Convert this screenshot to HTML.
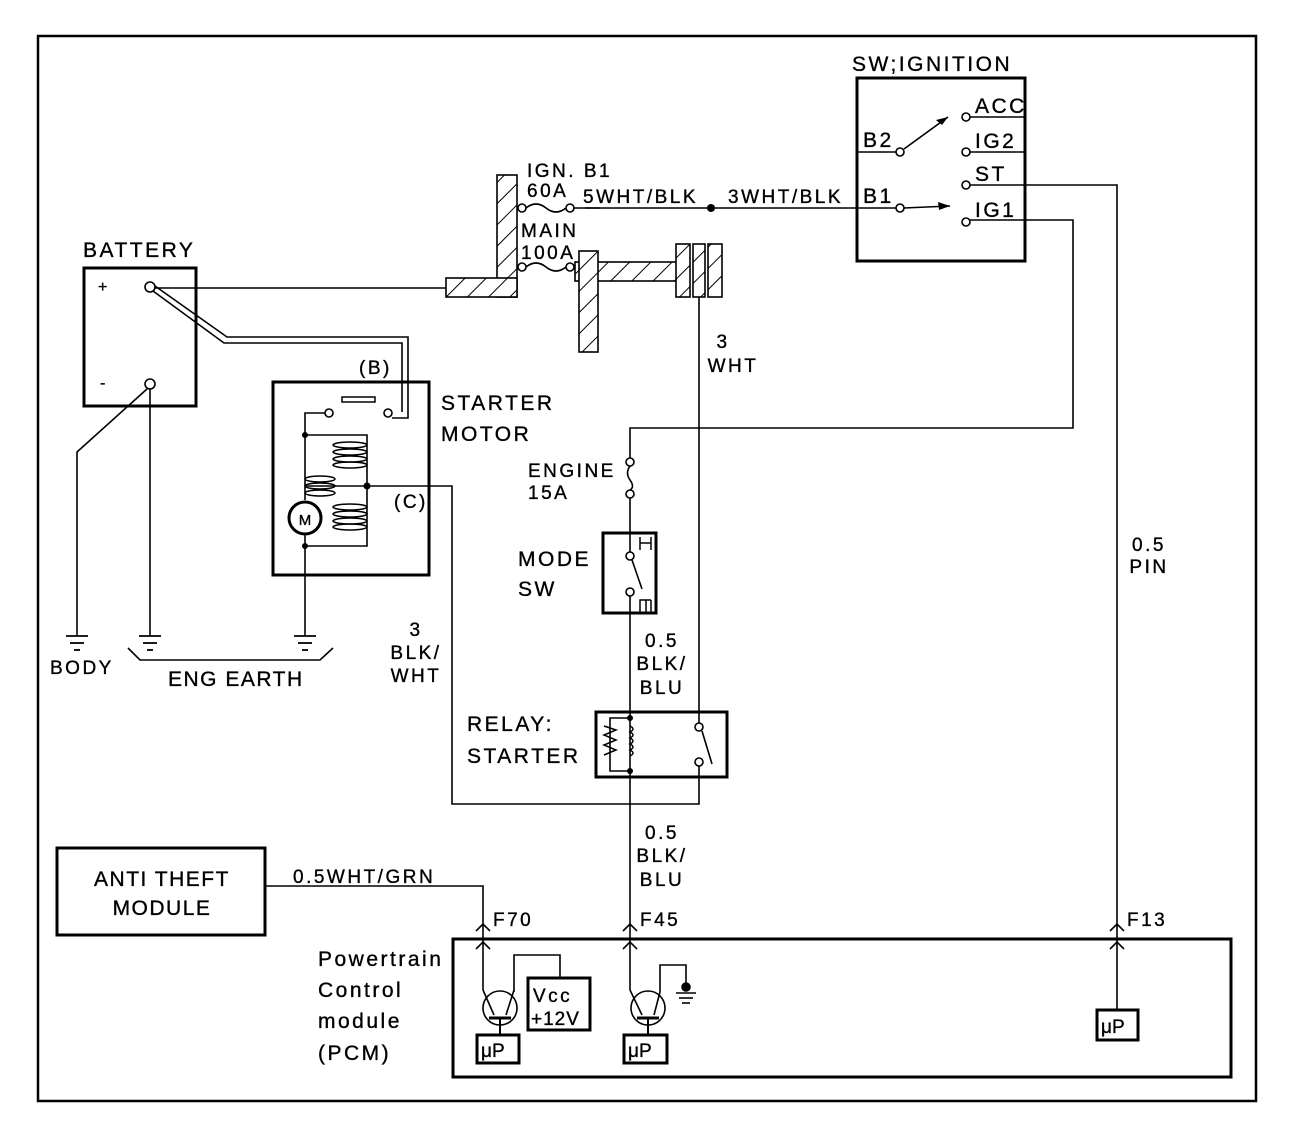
<!DOCTYPE html>
<html><head><style>
html,body{margin:0;padding:0;background:#fff;}
svg{display:block;}
text{font-family:"Liberation Sans",sans-serif;fill:#000;stroke:#000;stroke-width:0.35;letter-spacing:2.5px;}
</style></head><body>
<svg width="1312" height="1126" viewBox="0 0 1312 1126" xmlns="http://www.w3.org/2000/svg">
<defs>
<pattern id="h" width="15" height="15" patternUnits="userSpaceOnUse" patternTransform="rotate(45)">
<rect width="15" height="15" fill="#fff"/><line x1="0" y1="0" x2="0" y2="15" stroke="#000" stroke-width="2"/>
</pattern>
</defs>
<rect width="1312" height="1126" fill="#fff"/>
<rect x="38" y="36" width="1218" height="1065" fill="none" stroke="#000" stroke-width="2.5"/>

<g fill="none" stroke="#000" stroke-width="1.6">
<rect x="857" y="78" width="168" height="183" stroke-width="3"/>
<line x1="857" y1="152" x2="896" y2="152"/>
<line x1="904" y1="149" x2="948" y2="117"/>
<line x1="585" y1="208" x2="896" y2="208"/>
<line x1="904" y1="208" x2="950" y2="206"/>
<circle cx="900" cy="152" r="4" fill="#fff"/>
<circle cx="900" cy="208" r="4" fill="#fff"/>
<circle cx="966" cy="117" r="4" fill="#fff"/>
<circle cx="966" cy="152" r="4" fill="#fff"/>
<circle cx="966" cy="185" r="4" fill="#fff"/>
<circle cx="966" cy="222" r="4" fill="#fff"/>
<line x1="970" y1="117" x2="1025" y2="117"/>
<line x1="970" y1="152" x2="1025" y2="152"/>
<polyline points="970,185 1117,185 1117,925"/>
<polyline points="970,220 1073,220 1073,428 630,428 630,458"/>

<circle cx="522" cy="208" r="4" fill="#fff"/>
<circle cx="570" cy="208" r="4" fill="#fff"/>
<path d="M526,208 q10,-8 20,0 t20,0"/>
<line x1="574" y1="208" x2="600" y2="208"/>
<circle cx="522" cy="267" r="4" fill="#fff"/>
<circle cx="570" cy="267" r="4" fill="#fff"/>
<path d="M526,267 q10,-8 20,0 t20,0"/>

<rect x="497" y="175" width="20" height="122" fill="url(#h)"/>
<rect x="446" y="278" width="71" height="19" fill="url(#h)"/>
<rect x="575" y="262" width="105" height="19" fill="url(#h)"/>
<rect x="579" y="251" width="19" height="101" fill="url(#h)"/>
<rect x="676" y="244" width="14" height="53" fill="url(#h)"/>
<rect x="693" y="244" width="12" height="53" fill="url(#h)"/>
<rect x="708" y="244" width="14" height="53" fill="url(#h)"/>
<line x1="699" y1="297" x2="699" y2="723"/>

<rect x="84" y="268" width="112" height="138" stroke-width="3"/>
<line x1="155" y1="288" x2="446" y2="288"/>
<polyline points="153,291 224,343 402,343 402,412"/>
<polyline points="155,286 227,337 408,337 408,418 392,418"/>
<circle cx="150" cy="287" r="5" fill="#fff"/>
<circle cx="150" cy="384" r="5" fill="#fff"/>
<line x1="150" y1="389" x2="150" y2="636"/>
<polyline points="147,389 77,452 77,636"/>

<g stroke-width="1.8">
<line x1="66" y1="636" x2="88" y2="636"/><line x1="70" y1="643" x2="84" y2="643"/><line x1="74" y1="650" x2="80" y2="650"/>
<line x1="139" y1="636" x2="161" y2="636"/><line x1="143" y1="643" x2="157" y2="643"/><line x1="147" y1="650" x2="153" y2="650"/>
<line x1="294" y1="636" x2="316" y2="636"/><line x1="298" y1="643" x2="312" y2="643"/><line x1="302" y1="650" x2="308" y2="650"/>
</g>
<polyline points="128,648 140,660 320,660 333,648"/>

<rect x="273" y="382" width="156" height="193" stroke-width="3"/>
<rect x="342" y="397" width="33" height="5" stroke-width="1.5"/>
<circle cx="329" cy="413" r="4" fill="#fff"/>
<circle cx="388" cy="413" r="4" fill="#fff"/>
<polyline points="325,413 305,413 305,500"/>
<polyline points="305,435 367,435 367,546 305,546"/>
<line x1="305" y1="534" x2="305" y2="636"/>
<circle cx="305" cy="518" r="16" stroke-width="3" fill="#fff"/>
<g stroke-width="1.5">
<ellipse cx="350" cy="445" rx="17" ry="3"/><ellipse cx="350" cy="452" rx="17" ry="3"/><ellipse cx="350" cy="459" rx="17" ry="3"/><ellipse cx="350" cy="465" rx="17" ry="3"/>
<ellipse cx="320" cy="479" rx="15" ry="3"/><ellipse cx="320" cy="486" rx="15" ry="3"/><ellipse cx="320" cy="493" rx="15" ry="3"/>
<ellipse cx="350" cy="507" rx="17" ry="3"/><ellipse cx="350" cy="514" rx="17" ry="3"/><ellipse cx="350" cy="521" rx="17" ry="3"/><ellipse cx="350" cy="527" rx="17" ry="3"/>
</g>
<polyline points="305,486 452,486 452,804 699,804 699,766"/>

<circle cx="630" cy="462" r="4" fill="#fff"/>
<circle cx="630" cy="494" r="4" fill="#fff"/>
<path d="M630,466 q-5,7 0,14 t0,10"/>
<line x1="630" y1="498" x2="630" y2="553"/>
<rect x="603" y="533" width="53" height="80" stroke-width="3"/>
<circle cx="630" cy="556" r="4" fill="#fff"/>
<circle cx="630" cy="592" r="4" fill="#fff"/>
<line x1="632" y1="560" x2="642" y2="589"/>
<line x1="630" y1="596" x2="630" y2="925"/>
<path d="M640,537 v13 M640,543 h11 M651,537 v13" stroke-width="1.5"/>
<path d="M651,600 h-11 v12 M646,600 v12 M651,600 v12" stroke-width="1.5"/>

<rect x="596" y="712" width="131" height="65" stroke-width="3"/>
<polyline points="630,718 610,718 610,771 630,771"/>
<path d="M604,726 l12,4 -12,5 12,5 -12,5 12,5 -12,5" stroke-width="1.5"/>
<path d="M630,726 q6,3 0,6 q6,3 0,6 q6,3 0,6 q6,3 0,6 q6,3 0,6" stroke-width="1.5"/>
<circle cx="699" cy="727" r="4" fill="#fff"/>
<circle cx="699" cy="762" r="4" fill="#fff"/>
<line x1="702" y1="731" x2="712" y2="764"/>

<rect x="57" y="848" width="208" height="87" stroke-width="3"/>
<polyline points="265,886 483,886 483,925"/>

<rect x="453" y="939" width="778" height="138" stroke-width="3"/>
<line x1="483" y1="925" x2="483" y2="990"/>
<line x1="630" y1="925" x2="630" y2="990"/>
<line x1="1117" y1="925" x2="1117" y2="1010"/>
<polyline points="476,931 483,924 490,931"/><polyline points="476,949 483,942 490,949"/>
<polyline points="623,931 630,924 637,931"/><polyline points="623,949 630,942 637,949"/>
<polyline points="1110,931 1117,924 1124,931"/><polyline points="1110,949 1117,942 1124,949"/>

<circle cx="500" cy="1008" r="17"/>
<line x1="489" y1="1018" x2="511" y2="1018" stroke-width="3"/>
<line x1="500" y1="1018" x2="500" y2="1035" stroke-width="2"/>
<line x1="483" y1="990" x2="494" y2="1015"/>
<line x1="514" y1="990" x2="506" y2="1015"/>
<polyline points="514,992 514,955 560,955 560,978"/>
<rect x="528" y="978" width="62" height="52" stroke-width="3"/>
<rect x="477" y="1035" width="42" height="28" stroke-width="3"/>

<circle cx="648" cy="1008" r="17"/>
<line x1="637" y1="1018" x2="659" y2="1018" stroke-width="3"/>
<line x1="648" y1="1018" x2="648" y2="1035" stroke-width="2"/>
<line x1="630" y1="990" x2="642" y2="1015"/>
<line x1="660" y1="992" x2="654" y2="1015"/>
<polyline points="660,992 660,965 686,965 686,988"/>
<circle cx="686" cy="987" r="4" fill="#000"/>
<line x1="676" y1="993" x2="696" y2="993"/><line x1="679" y1="998" x2="693" y2="998"/><line x1="682" y1="1003" x2="690" y2="1003"/>
<rect x="624" y="1035" width="43" height="28" stroke-width="3"/>

<rect x="1097" y="1010" width="41" height="30" stroke-width="3"/>
</g>
<g fill="#000">
<circle cx="711" cy="208" r="4"/>
<circle cx="305" cy="435" r="3"/><circle cx="367" cy="486" r="3.5"/><circle cx="305" cy="546" r="3"/>
<circle cx="630" cy="718" r="3"/><circle cx="630" cy="771" r="3"/>
<path d="M948,117 l-12,3 6,5z"/>
<path d="M950,206 l-12,-4 1,8z"/>
</g>
<text x="305" y="525" font-size="15" text-anchor="middle" style="letter-spacing:0">M</text>

<g font-size="21">
<text x="852" y="71">SW;IGNITION</text>
<text x="975" y="113">ACC</text>
<text x="975" y="148">IG2</text>
<text x="975" y="181">ST</text>
<text x="975" y="217">IG1</text>
<text x="863" y="147">B2</text>
<text x="863" y="203">B1</text>
<g font-size="19" style="letter-spacing:2px">
<text x="527" y="177">IGN. B1</text>
<text x="527" y="197">60A</text>
<text x="583" y="203">5WHT/BLK</text>
<text x="728" y="203">3WHT/BLK</text>
<text x="521" y="237">MAIN</text>
<text x="521" y="259">100A</text>
<text x="723" y="348" text-anchor="middle">3</text>
<text x="733" y="372" text-anchor="middle">WHT</text>
<text x="528" y="477">ENGINE</text>
<text x="528" y="499">15A</text>
<text x="662" y="647" text-anchor="middle">0.5</text>
<text x="662" y="670" text-anchor="middle">BLK/</text>
<text x="662" y="694" text-anchor="middle">BLU</text>
<text x="416" y="636" text-anchor="middle">3</text>
<text x="416" y="659" text-anchor="middle">BLK/</text>
<text x="416" y="682" text-anchor="middle">WHT</text>
<text x="662" y="839" text-anchor="middle">0.5</text>
<text x="662" y="862" text-anchor="middle">BLK/</text>
<text x="662" y="886" text-anchor="middle">BLU</text>
<text x="1149" y="551" text-anchor="middle">0.5</text>
<text x="1149" y="573" text-anchor="middle">PIN</text>
<text x="50" y="674">BODY</text>
<text x="293" y="883">0.5WHT/GRN</text>
<text x="493" y="926">F70</text>
<text x="640" y="926">F45</text>
<text x="1127" y="926">F13</text>
<text x="533" y="1002">Vcc</text>
<text x="531" y="1025" style="letter-spacing:1px">+12V</text>
<text x="481" y="1057" style="letter-spacing:0">μP</text>
<text x="628" y="1057" style="letter-spacing:0">μP</text>
<text x="1101" y="1033" style="letter-spacing:0">μP</text>
<text x="359" y="374">(B)</text>
<text x="394" y="508">(C)</text>
</g>
<text x="98" y="292" font-size="16">+</text>
<text x="100" y="388" font-size="16">-</text>
<text x="83" y="257">BATTERY</text>
<text x="441" y="410">STARTER</text>
<text x="441" y="441">MOTOR</text>
<text x="518" y="566">MODE</text>
<text x="518" y="596">SW</text>
<text x="467" y="731">RELAY:</text>
<text x="467" y="763">STARTER</text>
<text x="168" y="686" style="letter-spacing:1.5px">ENG EARTH</text>
<text x="162" y="886" text-anchor="middle" style="letter-spacing:1.5px">ANTI THEFT</text>
<text x="162" y="915" text-anchor="middle" style="letter-spacing:1.5px">MODULE</text>
<text x="318" y="966">Powertrain</text>
<text x="318" y="997">Control</text>
<text x="318" y="1028">module</text>
<text x="318" y="1060">(PCM)</text>
</g>
</svg>
</body></html>
